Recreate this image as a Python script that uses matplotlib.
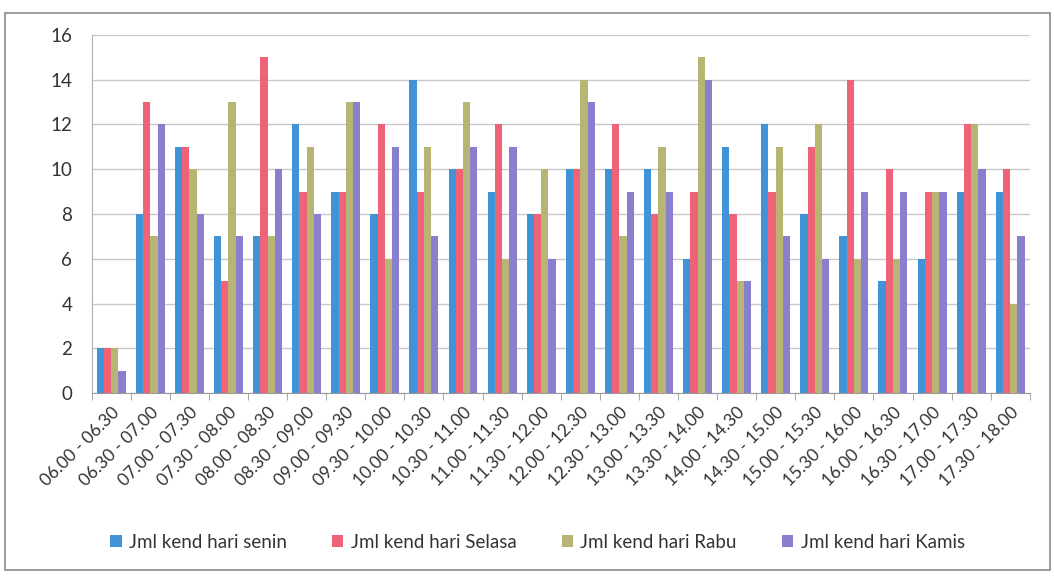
import matplotlib.pyplot as plt
import numpy as np
from matplotlib.patches import Rectangle

plt.rcParams['font.family'] = ['Lato', 'DejaVu Sans']

slots = ['06.00 - 06.30', '06.30 - 07.00', '07.00 - 07.30', '07.30 - 08.00',
         '08.00 - 08.30', '08.30 - 09.00', '09.00 - 09.30', '09.30 - 10.00',
         '10.00 - 10.30', '10.30 - 11.00', '11.00 - 11.30', '11.30 - 12.00',
         '12.00 - 12.30', '12.30 - 13.00', '13.00 - 13.30', '13.30 - 14.00',
         '14.00 - 14.30', '14.30 - 15.00', '15.00 - 15.30', '15.30 - 16.00',
         '16.00 - 16.30', '16.30 - 17.00', '17.00 - 17.30', '17.30 - 18.00']

senin = [2, 8, 11, 7, 7, 12, 9, 8, 14, 10, 9, 8, 10, 10, 10, 6, 11, 12, 8, 7, 5, 6, 9, 9]
selasa = [2, 13, 11, 5, 15, 9, 9, 12, 9, 10, 12, 8, 10, 12, 8, 9, 8, 9, 11, 14, 10, 9, 12, 10]
rabu = [2, 7, 10, 13, 7, 11, 13, 6, 11, 13, 6, 10, 14, 7, 11, 15, 5, 11, 12, 6, 6, 9, 12, 4]
kamis = [1, 12, 8, 7, 10, 8, 13, 11, 7, 11, 11, 6, 13, 9, 9, 14, 5, 7, 6, 9, 9, 9, 10, 7]

series = [
    ('Jml kend hari senin', senin, '#3f93d6'),
    ('Jml kend hari Selasa', selasa, '#ef6379'),
    ('Jml kend hari Rabu', rabu, '#b8b474'),
    ('Jml kend hari Kamis', kamis, '#8a7fcf'),
]

fig = plt.figure(figsize=(10.54, 5.8), dpi=100)
fig.patches.append(Rectangle((0.005, 0.017), 0.991, 0.96, transform=fig.transFigure,
                             fill=False, edgecolor='#8a8a8a', linewidth=1.2))

ax = fig.add_axes([0.087, 0.322, 0.89, 0.618])

x = np.arange(len(slots))
barWidth = 0.185
for i, (name, vals, color) in enumerate(series):
    ax.bar(x + (i - 1.5) * barWidth, vals, barWidth, color=color, label=name, zorder=3)

ax.set_ylim(0, 16)
ax.set_yticks(range(0, 17, 2))
ax.set_xlim(-0.5, len(slots) - 0.5)
ax.yaxis.grid(True, color='#c8c8c8', linewidth=1, zorder=0)
ax.tick_params(axis='y', length=0, labelsize=13.5, colors='#333333', pad=14)

# category labels, with ticks on the boundaries between groups
ax.set_xticks(x)
ax.set_xticklabels(slots, rotation=45, ha='right', rotation_mode='anchor',
                   fontsize=12.5, color='#333333')
ax.tick_params(axis='x', length=0, pad=8)
ax.set_xticks(np.arange(-0.5, len(slots), 1), minor=True)
ax.tick_params(axis='x', which='minor', length=5, color='#9a9a9a', direction='out')

for side in ['top', 'right']:
    ax.spines[side].set_visible(False)
ax.spines['left'].set_color('#b0b0b0')
ax.spines['bottom'].set_color('#9a9a9a')

fig.legend(loc='center', bbox_to_anchor=(0.51, 0.065), ncol=4, frameon=False,
           fontsize=13.5, handlelength=0.6, handleheight=0.6, handletextpad=0.4,
           columnspacing=2.4, labelcolor='#333333')

plt.savefig('out.png', dpi=100)
